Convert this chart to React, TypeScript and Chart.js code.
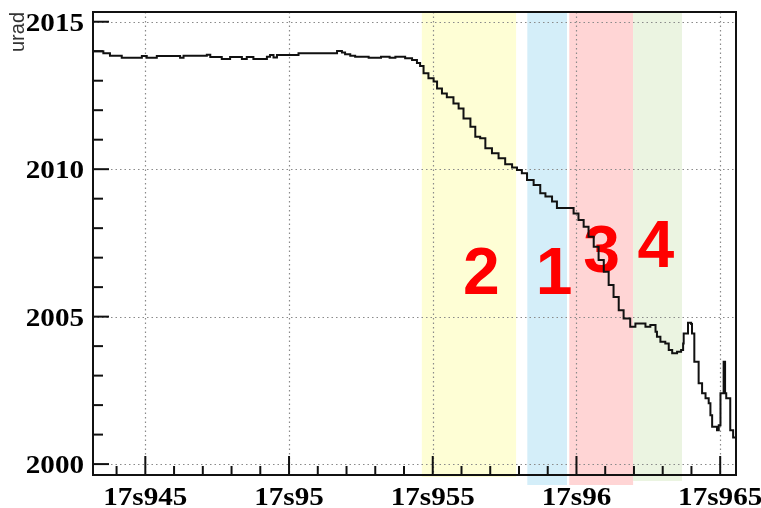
import React, { useEffect, useRef } from 'react';
import { Chart, registerables } from 'chart.js';

Chart.register(...registerables);

// Axis ranges (time in ms: 17945 -> "17s945")
const X_MIN = 17943.18;
const X_MAX = 17965.55;
const Y_MIN = 1999.63;
const Y_MAX = 2015.33;

const X_MAJOR = [17945, 17950, 17955, 17960, 17965];
const X_TICK_LABELS = ['17s945', '17s95', '17s955', '17s96', '17s965'];
const X_MINOR = [17944, 17946, 17947, 17948, 17949, 17951, 17952, 17953, 17954, 17956, 17957, 17958, 17959, 17961, 17962, 17963, 17964];

const Y_MAJOR = [2000, 2005, 2010, 2015];
const Y_TICK_LABELS = ['2000', '2005', '2010', '2015'];
const Y_MINOR = [2001, 2002, 2003, 2004, 2006, 2007, 2008, 2009, 2011, 2012, 2013, 2014];

const Y_TITLE = 'urad';

// Step-line samples
const T_MS = [
  17943.18, 17943.54, 17943.77, 17944.18, 17944.88, 17945.05, 17945.40, 17946.21, 17946.33, 17947.14,
  17947.26, 17947.66, 17947.95, 17948.36, 17948.53, 17948.76, 17949.23, 17949.34, 17949.46, 17949.58,
  17950.33, 17951.67, 17951.84, 17951.95, 17952.13, 17952.30, 17952.77, 17953.20, 17953.50, 17953.70,
  17954.04, 17954.28, 17954.45, 17954.56, 17954.68, 17954.85, 17955.03, 17955.15, 17955.32, 17955.49,
  17955.72, 17955.90, 17956.07, 17956.31, 17956.48, 17956.65, 17956.83, 17957.06, 17957.29, 17957.52,
  17957.76, 17957.93, 17958.10, 17958.28, 17958.51, 17958.74, 17958.92, 17959.15, 17959.32, 17959.90,
  17960.07, 17960.25, 17960.42, 17960.60, 17960.77, 17960.95, 17961.12, 17961.29, 17961.47, 17961.64,
  17961.87, 17962.05, 17962.40, 17962.57, 17962.75, 17962.80, 17962.92, 17963.09, 17963.21, 17963.33,
  17963.50, 17963.64, 17963.71, 17963.73, 17963.88, 17963.99, 17964.02, 17964.10, 17964.25, 17964.37,
  17964.49, 17964.60, 17964.66, 17964.72, 17964.89, 17964.95, 17965.01, 17965.12, 17965.17, 17965.21,
  17965.35, 17965.45, 17965.55,
];
const VALUES = [
  2014.00, 2013.93, 2013.85, 2013.78, 2013.84, 2013.78, 2013.84, 2013.78, 2013.85, 2013.88,
  2013.80, 2013.74, 2013.80, 2013.74, 2013.80, 2013.74, 2013.81, 2013.87, 2013.79, 2013.87,
  2013.93, 2014.01, 2013.96, 2013.90, 2013.85, 2013.81, 2013.78, 2013.81, 2013.78, 2013.81,
  2013.76, 2013.70, 2013.60, 2013.50, 2013.25, 2013.08, 2012.97, 2012.74, 2012.57, 2012.44,
  2012.23, 2012.06, 2011.72, 2011.44, 2011.10, 2011.05, 2010.71, 2010.54, 2010.37, 2010.17,
  2010.06, 2009.97, 2009.86, 2009.63, 2009.46, 2009.18, 2009.07, 2008.90, 2008.68, 2008.50,
  2008.28, 2008.05, 2007.71, 2007.37, 2006.92, 2006.52, 2006.07, 2005.67, 2005.22, 2004.94,
  2004.66, 2004.77, 2004.66, 2004.72, 2004.49, 2004.32, 2004.15, 2004.09, 2003.87, 2003.76,
  2003.81, 2003.87, 2004.09, 2004.43, 2004.79, 2004.75, 2004.43, 2003.47, 2002.74, 2002.40,
  2002.23, 2002.06, 2001.66, 2001.27, 2001.15, 2001.32, 2002.40, 2003.47, 2002.40, 2002.23,
  2001.15, 2000.90, 2000.90,
];

// Highlighted phases
const BAND_START = [17954.62, 17958.29, 17959.75, 17961.97];
const BAND_END = [17957.90, 17959.67, 17961.97, 17963.67];
const BAND_COLORS = ['#fefed5', '#d4eef9', '#ffd5d5', '#ebf4e1'];
const BAND_OVERHANG = [2, 10, 10, 6];

const ZONE_LABELS = ['2', '1', '3', '4'];
const ZONE_X = [17956.69, 17959.22, 17960.87, 17962.76];
const ZONE_Y = [2005.76, 2005.76, 2006.52, 2006.68];

const TICK_FONT = 'bold 26px "Liberation Serif", "Times New Roman", serif';
const TEXT_STRETCH = 1.12;

const rootStyle = {
  id: 'rootStyle',
  beforeDatasetsDraw(chart: any) {
    const { ctx, chartArea: a } = chart;
    const x = chart.scales.x;
    const y = chart.scales.y;
    ctx.save();
    BAND_START.forEach((s, i) => {
      const x0 = x.getPixelForValue(s);
      const x1 = x.getPixelForValue(BAND_END[i]);
      ctx.fillStyle = BAND_COLORS[i];
      ctx.fillRect(x0, a.top, x1 - x0, a.bottom - a.top + BAND_OVERHANG[i]);
    });
    ctx.strokeStyle = '#8a8a8a';
    ctx.lineWidth = 1.2;
    ctx.setLineDash([1.5, 3]);
    X_MAJOR.forEach((v) => {
      const px = Math.round(x.getPixelForValue(v)) + 0.5;
      ctx.beginPath();
      ctx.moveTo(px, a.top);
      ctx.lineTo(px, a.bottom);
      ctx.stroke();
    });
    Y_MAJOR.forEach((v) => {
      const py = Math.round(y.getPixelForValue(v)) + 0.5;
      ctx.beginPath();
      ctx.moveTo(a.left, py);
      ctx.lineTo(a.right, py);
      ctx.stroke();
    });
    ctx.setLineDash([]);
    ctx.fillStyle = '#ff0000';
    ctx.font = 'bold 66px "Liberation Sans", Arial, sans-serif';
    ctx.textAlign = 'center';
    ctx.textBaseline = 'alphabetic';
    ZONE_LABELS.forEach((t, i) => {
      ctx.fillText(t, x.getPixelForValue(ZONE_X[i]), y.getPixelForValue(ZONE_Y[i]));
    });
    ctx.restore();
  },
  afterDatasetsDraw(chart: any) {
    const { ctx, chartArea: a } = chart;
    const x = chart.scales.x;
    const y = chart.scales.y;
    ctx.save();
    ctx.strokeStyle = '#111';
    ctx.lineWidth = 2;
    ctx.strokeRect(a.left, a.top, a.right - a.left, a.bottom - a.top);
    const tick = (x0: number, y0: number, x1: number, y1: number) => {
      ctx.beginPath();
      ctx.moveTo(x0, y0);
      ctx.lineTo(x1, y1);
      ctx.stroke();
    };
    Y_MAJOR.forEach((v) => { const p = y.getPixelForValue(v); tick(a.left, p, a.left + 16, p); });
    Y_MINOR.forEach((v) => { const p = y.getPixelForValue(v); tick(a.left, p, a.left + 10, p); });
    X_MAJOR.forEach((v) => { const p = x.getPixelForValue(v); tick(p, a.bottom, p, a.bottom - 19); });
    X_MINOR.forEach((v) => { const p = x.getPixelForValue(v); tick(p, a.bottom, p, a.bottom - 9); });

    // tick labels
    ctx.fillStyle = '#000';
    ctx.font = TICK_FONT;
    ctx.textBaseline = 'alphabetic';
    const label = (t: string, px: number, py: number, align: CanvasTextAlign) => {
      ctx.save();
      ctx.translate(px, py);
      ctx.scale(TEXT_STRETCH, 1);
      ctx.textAlign = align;
      ctx.fillText(t, 0, 0);
      ctx.restore();
    };
    Y_MAJOR.forEach((v, i) => label(Y_TICK_LABELS[i], a.left - 9, y.getPixelForValue(v) + 9, 'right'));
    X_MAJOR.forEach((v, i) => label(X_TICK_LABELS[i], x.getPixelForValue(v), a.bottom + 30, 'center'));

    // axis title
    ctx.translate(24, a.top);
    ctx.rotate(-Math.PI / 2);
    ctx.fillStyle = '#333';
    ctx.font = '20px "Liberation Sans", Arial, sans-serif';
    ctx.textAlign = 'right';
    ctx.textBaseline = 'alphabetic';
    ctx.fillText(Y_TITLE, 0, 0);
    ctx.restore();
  },
};

export default function App() {
  const ref = useRef<HTMLCanvasElement>(null);
  useEffect(() => {
    const chart = new Chart(ref.current as HTMLCanvasElement, {
      type: 'line',
      data: {
        datasets: [
          {
            data: T_MS.map((t, i) => ({ x: t, y: VALUES[i] })),
            stepped: true,
            borderColor: '#111',
            borderWidth: 2,
            pointRadius: 0,
            fill: false,
          },
        ],
      },
      options: {
        responsive: false,
        animation: false,
        layout: { padding: { left: 0, right: 25, top: 12, bottom: 0 } },
        plugins: { legend: { display: false }, tooltip: { enabled: false } },
        scales: {
          x: {
            type: 'linear',
            min: X_MIN,
            max: X_MAX,
            grid: { display: false },
            border: { display: false },
            ticks: { display: false },
            afterFit: (s: any) => { s.height = 33; s.paddingLeft = 0; s.paddingRight = 0; },
          },
          y: {
            type: 'linear',
            min: Y_MIN,
            max: Y_MAX,
            grid: { display: false },
            border: { display: false },
            ticks: { display: false },
            afterFit: (s: any) => { s.width = 93; s.paddingTop = 0; s.paddingBottom = 0; },
          },
        },
      },
      plugins: [rootStyle],
    } as any);
    return () => chart.destroy();
  }, []);
  return (
    <div style={{ position: 'absolute', left: 0, top: 0, width: 761, height: 508, background: '#fff' }}>
      <canvas ref={ref} width={761} height={508} style={{ display: 'block', width: 761, height: 508 }} />
    </div>
  );
}
